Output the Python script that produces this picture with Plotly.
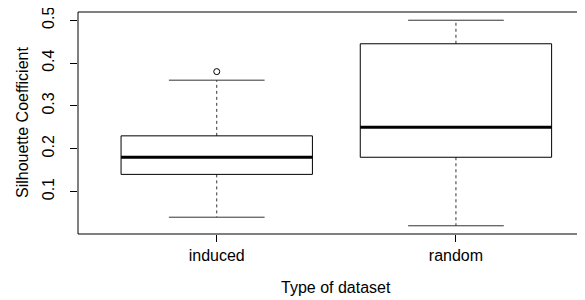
import plotly.graph_objects as go

# ---- data ----
categories = ["induced", "random"]
lower_whisker = [0.04, 0.02]
q1 = [0.14, 0.18]
median = [0.18, 0.25]
q3 = [0.23, 0.445]
upper_whisker = [0.36, 0.50]
outlier_category = ["induced"]
outlier_value = [0.38]
y_ticks = [0.1, 0.2, 0.3, 0.4, 0.5]
y_tick_labels = ["0.1", "0.2", "0.3", "0.4", "0.5"]

BOX_HALF = 0.4
CAP_HALF = 0.2
positions = [i + 1 for i in range(len(categories))]

fig = go.Figure()

box_x, box_y = [], []
med_x, med_y = [], []
whisk_x, whisk_y = [], []
cap_x, cap_y = [], []
for p, lo, a, m, b, hi in zip(positions, lower_whisker, q1, median, q3, upper_whisker):
    box_x += [p - BOX_HALF, p + BOX_HALF, p + BOX_HALF, p - BOX_HALF, p - BOX_HALF, None]
    box_y += [a, a, b, b, a, None]
    med_x += [p - BOX_HALF, p + BOX_HALF, None]
    med_y += [m, m, None]
    whisk_x += [p, p, None, p, p, None]
    whisk_y += [b, hi, None, a, lo, None]
    cap_x += [p - CAP_HALF, p + CAP_HALF, None, p - CAP_HALF, p + CAP_HALF, None]
    cap_y += [hi, hi, None, lo, lo, None]

fig.add_trace(go.Scatter(x=whisk_x, y=whisk_y, mode="lines",
                         line=dict(color="#333333", width=1, dash="3px,3px"),
                         hoverinfo="skip"))
fig.add_trace(go.Scatter(x=cap_x, y=cap_y, mode="lines",
                         line=dict(color="#333333", width=1), hoverinfo="skip"))
fig.add_trace(go.Scatter(x=box_x, y=box_y, mode="lines",
                         line=dict(color="black", width=1), hoverinfo="skip"))
fig.add_trace(go.Scatter(x=med_x, y=med_y, mode="lines",
                         line=dict(color="black", width=3), hoverinfo="skip"))
fig.add_trace(go.Scatter(
    x=[positions[categories.index(c)] for c in outlier_category], y=outlier_value,
    mode="markers",
    marker=dict(symbol="circle-open", size=6, color="black", line=dict(width=1)),
    hoverinfo="skip"))

# plot frame (right edge falls outside the picture, as in the reference)
fig.add_shape(type="rect", xref="paper", yref="paper", x0=0, x1=1.05, y0=0, y1=1,
              line=dict(color="black", width=1), fillcolor="rgba(0,0,0,0)")

font = dict(family="Liberation Sans, Arial, Helvetica, sans-serif", size=16, color="black")

L, T, B = 70, 4, 74
W, H = 585, 300
PW, PH = W - L, H - T - B

fig.add_annotation(text="Type of dataset", xref="paper", yref="paper",
                   x=(328 - L) / PW, y=-(279 - (T + PH)) / PH, showarrow=False,
                   xanchor="center", yanchor="middle", font=font)
fig.add_annotation(text="Silhouette Coefficient", xref="paper", yref="paper",
                   x=-(L - 14) / PW, y=0.5, showarrow=False, textangle=-90,
                   xanchor="center", yanchor="middle", font=font)

fig.update_layout(
    width=W, height=H,
    margin=dict(l=L, r=0, t=T, b=B),
    paper_bgcolor="white", plot_bgcolor="white",
    showlegend=False,
    font=font,
    xaxis=dict(range=[0.42, 0.42 + PW / 239.2], tickvals=positions, ticktext=categories,
               ticks="outside", ticklen=7, tickcolor="black", showgrid=False,
               zeroline=False, showline=False, automargin=False),
    yaxis=dict(range=[0.0008, 0.5192], tickvals=y_ticks, ticktext=y_tick_labels,
               ticks="outside", ticklen=7, tickcolor="black", tickangle=-90,
               showgrid=False, zeroline=False, showline=False, automargin=False,
               ticklabelstandoff=10, ticklabeloverflow="allow"),
)

fig.write_html("out.html")
